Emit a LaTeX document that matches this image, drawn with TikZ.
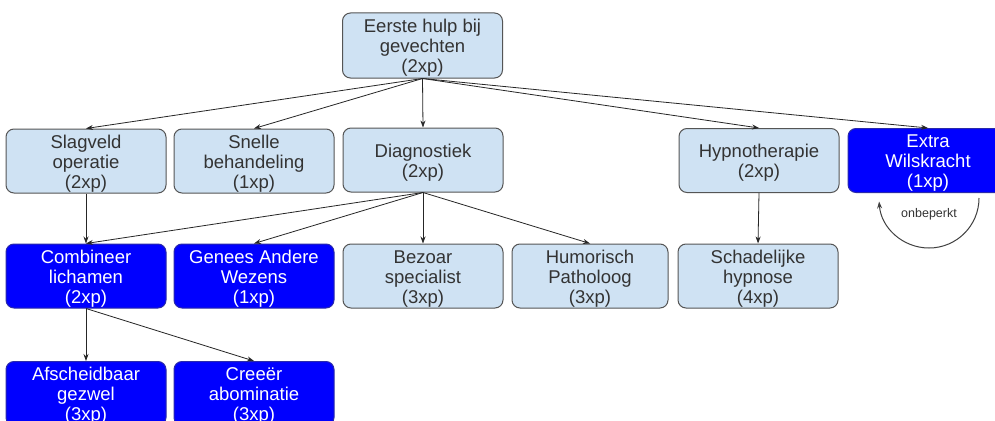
\documentclass[tikz,border=0pt]{standalone}
\usepackage{fontspec}
\setmainfont{Liberation Sans}
\usetikzlibrary{arrows.meta}
\definecolor{lb}{HTML}{CFE2F3}
\definecolor{db}{HTML}{0000FF}
\definecolor{bd}{HTML}{555555}
\definecolor{tx}{HTML}{333333}
\newcommand{\bxtxt}[1]{\raisebox{-3pt}[\height][\depth]{\begin{tabular}{@{}c@{}}#1\end{tabular}}}
\begin{document}
\begin{tikzpicture}[x=1pt,y=-1pt,
 box/.style={rounded corners=8pt, minimum width=160pt, minimum height=64pt, inner sep=0pt, font=\fontsize{18.5}{20}\selectfont, line width=1pt},
 lbox/.style={box, fill=lb, draw=bd, text=tx},
 dbox/.style={box, fill=db, draw=bd!50!blue, text=white},
 arr/.style={-{Stealth[length=7pt,width=5pt]}, line width=0.8pt, draw=black!85}]
\clip (0,0) rectangle (995,420);
\fill[white] (0,0) rectangle (995,420);
% row 1
\node[lbox, minimum height=65pt] (root) at (422.5,45.5) {\bxtxt{Eerste hulp bij\\gevechten\\(2xp)}};
% row 2
\node[lbox] (slag) at (86,161) {\bxtxt{Slagveld\\operatie\\(2xp)}};
\node[lbox] (snel) at (254,161) {\bxtxt{Snelle\\behandeling\\(1xp)}};
\node[lbox] (diag) at (423,160) {\bxtxt{Diagnostiek\\(2xp)}};
\node[lbox] (hyp) at (759,160.5) {\bxtxt{Hypnotherapie\\(2xp)}};
\node[dbox] (extra) at (928,160.5) {\bxtxt{Extra\\Wilskracht\\(1xp)}};
% row 3
\node[dbox] (comb) at (86,276) {\bxtxt{Combineer\\lichamen\\(2xp)}};
\node[dbox] (gen) at (254,276) {\bxtxt{Genees Andere\\Wezens\\(1xp)}};
\node[lbox] (bez) at (423,276) {\bxtxt{Bezoar\\specialist\\(3xp)}};
\node[lbox, minimum width=156pt] (hum) at (590,276) {\bxtxt{Humorisch\\Patholoog\\(3xp)}};
\node[lbox] (sch) at (758,276) {\bxtxt{Schadelijke\\hypnose\\(4xp)}};
% row 4
\node[dbox] (afs) at (86,393.5) {\bxtxt{Afscheidbaar\\gezwel\\(3xp)}};
\node[dbox] (cre) at (254,393.5) {\bxtxt{Creeër\\abominatie\\(3xp)}};
% connectors
\draw[arr] (root.south) -- (slag.north);
\draw[arr] (root.south) -- (snel.north);
\draw[arr] (root.south) -- (diag.north);
\draw[arr] (root.south) -- (hyp.north);
\draw[arr] (root.south) -- (extra.north);
\draw[arr] (slag.south) -- (comb.north);
\draw[arr] (diag.south) -- (comb.north);
\draw[arr] (diag.south) -- (gen.north);
\draw[arr] (diag.south) -- (bez.north);
\draw[arr] (diag.south) -- (hum.north);
\draw[arr] (hyp.south) -- (sch.north);
\draw[arr] (comb.south) -- (afs.north);
\draw[arr] (comb.south) -- (cre.north);
% self loop
\coordinate (ls) at (979,198);
\draw[arr, line width=1pt, draw=black!75] (ls) arc[start angle=0, end angle=176, radius=50];
\node[font=\fontsize{12.5}{14}\selectfont, text=tx] (lbl) at (929,214) {onbeperkt};
\end{tikzpicture}
\end{document}
